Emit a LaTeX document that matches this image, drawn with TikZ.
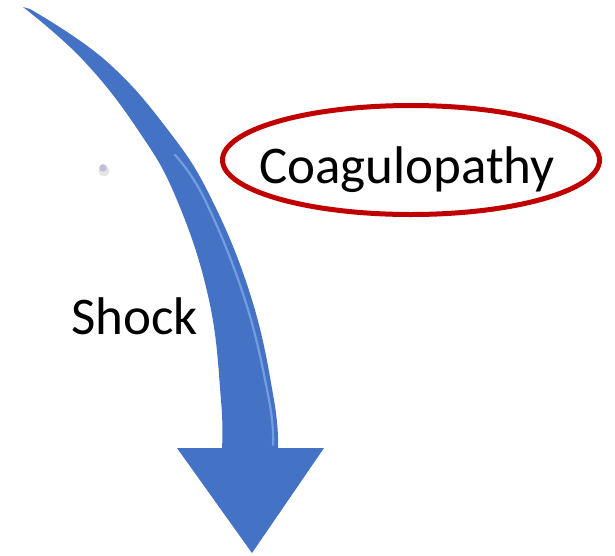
\documentclass[tikz,border=0pt]{standalone}
\usepackage{fontspec}
\setmainfont{Carlito}
\usetikzlibrary{shapes.geometric}
\definecolor{arrowblue}{RGB}{68,114,196}
\definecolor{arrowlight}{RGB}{125,165,230}
\definecolor{ovalred}{RGB}{192,0,0}
\tikzset{
  label text/.style={font=\fontsize{53}{60}\selectfont, text=black, inner sep=0pt},
  oval/.style={ellipse, draw=ovalred, line width=5pt, minimum width=377pt, minimum height=109pt, inner sep=0pt},
}
\begin{document}
\begin{tikzpicture}[x=1pt, y=-1pt]
\useasboundingbox (0,0) rectangle (615,555);
% curved arrow
\fill[arrowblue]
  plot[smooth, tension=0.7] coordinates {(23,7) (83,60) (138,130) (177,200) (209,300) (221,400) (222,448)}
  -- (177,448) -- (252,553) -- (324,448) -- (278,448)
  -- plot[smooth, tension=0.7] coordinates {(278,448) (274,400) (252,300) (212,200) (168,130) (105,60) (30,9)}
  -- cycle;
% highlight along the shaft
\draw[arrowlight, line width=2.2pt, line cap=round, opacity=0.85]
  plot[smooth, tension=0.7] coordinates {(175,155) (205,200) (245,300) (269,400) (273,445)};
% small dot
\fill[gray!20] (104,171) circle (5.5);
\fill[blue!25!gray!40] (103,168) circle (3.8);
\node[coordinate] (dot) at (103,168) {};
% labels
\node[oval] (coag) at (411,160) {};
\node[label text, anchor=base] (coagtext) at (407,183) {Coagulopathy};
\node[label text, anchor=base west] (shock) at (71,334) {Shock};
\end{tikzpicture}
\end{document}
